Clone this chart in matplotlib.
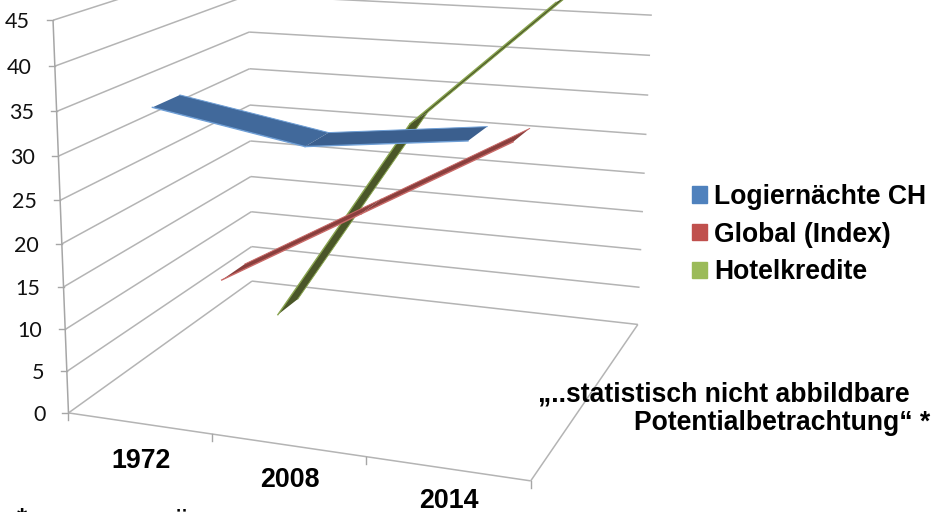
import numpy as np
import matplotlib.pyplot as plt
from matplotlib.patches import Patch

categories = ['1972', '2008', '2014']
logiernaechte = [35, 32, 34]
global_index = [10, 20, 30]
hotelkredite = [0, 27, 43]
y_ticks = [0, 5, 10, 15, 20, 25, 30, 35, 40, 45]

GRID = '#b4b4b4'
AXIS = '#a6a6a6'

# the excel 3d box: (cat, depth, value) -> pixel, fitted from the corners of the box
anchors = [(0,0,0,69,413),(1,0,0,530,482),(0,1,0,252,282),(1,1,0,638,323),(0,0,45,53,20),
           (0,0,20,62,243),(0,1,35,249,32),(1,1,40,652,16),(1,1,20,645,173),(0,1,20,250,141)]
A = []
b = []
for u,v,w,x,y in anchors:
    A.append([u,v,w,1,0,0,0,0,-x*u,-x*v,-x*w]); b.append(x)
    A.append([0,0,0,0,u,v,w,1,-y*u,-y*v,-y*w]); b.append(y)
p = np.linalg.lstsq(np.array(A,float),np.array(b,float),rcond=None)[0]
P = np.append(p,1).reshape(3,4)

def proj(u,v,w):
    q = P @ np.array([u,v,w,1.0])
    return q[0]/q[2], q[1]/q[2]

fig = plt.figure(figsize=(9.32,5.12),dpi=100)
ax = fig.add_axes([0,0,1,1])
ax.set_xlim(0,932)
ax.set_ylim(512,0)
ax.axis('off')

def line3(a,c,color=GRID,lw=1.1):
    ax.plot(*zip(proj(*a),proj(*c)),color=color,lw=lw,solid_capstyle='butt',zorder=1)

# walls and floor
for t in y_ticks:
    line3((0,0,t),(0,1,t))
    line3((0,1,t),(1,1,t))
    sx,sy = proj(0,0,t)
    ax.plot([sx-6,sx],[sy,sy],color=AXIS,lw=1,zorder=1)
    ax.text(sx-23,sy+2,str(t),ha='right',va='center',fontsize=15.5,family='Lato',color='#111111')
line3((0,0,0),(0,0,45),AXIS)
line3((0,0,0),(1,0,0))
line3((1,0,0),(1,1,0))

n = len(categories)
for i in range(n+1):
    sx,sy = proj(i/n,0,0)
    ax.plot([sx,sx],[sy,sy+7],color=AXIS,lw=1,zorder=1)

# year labels sit below the front edge
for i,c in enumerate(categories):
    sx,sy = proj((i+.5)/n,0,0)
    ax.text(sx+2,sy+38-3*i,c,ha='center',va='center',fontsize=19.3,fontweight='bold',family='Liberation Sans')

def ribbon(vals,v0,v1,face,edge,z):
    us = [(i+.5)/n for i in range(n)]
    for i in range(n-1):
        pts = [proj(us[i],v0,vals[i]),proj(us[i+1],v0,vals[i+1]),proj(us[i+1],v1,vals[i+1]),proj(us[i],v1,vals[i])]
        ax.fill(*zip(*pts),facecolor=face[i],edgecolor='none',zorder=z,clip_on=True)
        ax.plot(*zip(pts[0],pts[1]),color=edge,lw=1,zorder=z)
        ax.plot(*zip(pts[3],pts[2]),color=edge,lw=.7,zorder=z)

ribbon(hotelkredite,.767,.9,['#4a5628','#4f5c2b'],'#8aa550',3)
ribbon(global_index,.433,.567,['#8a3f3d','#8a3f3d'],'#c96a68',4)
ribbon(logiernaechte,.1,.233,['#41699b','#3b5f8e'],'#6f9fd6',5)

handles = [Patch(color='#4f81bd'),Patch(color='#c0504d'),Patch(color='#9bbb59')]
ax.legend(handles,['Logiernächte CH','Global (Index)','Hotelkredite'],loc='upper left',
          bbox_to_anchor=(692/932,1-184/512),frameon=False,handlelength=.57,handleheight=.57,handletextpad=.27,
          labelspacing=.44,borderpad=0,borderaxespad=0,prop={'family':'Liberation Sans','weight':'bold','size':19.1})

bold = dict(fontsize=19.1,fontweight='bold',family='Liberation Sans',va='center')
ax.text(538,394,'„..statistisch nicht abbildbare',ha='left',**bold)
ax.text(930,423,'Potentialbetrachtung“ *',ha='right',**bold)
# footnote is cut by the lower edge of the picture
ax.text(17,520,'*',ha='left',**bold)
ax.text(171,526,'Ü',ha='left',**bold)

fig.savefig('out.png')
